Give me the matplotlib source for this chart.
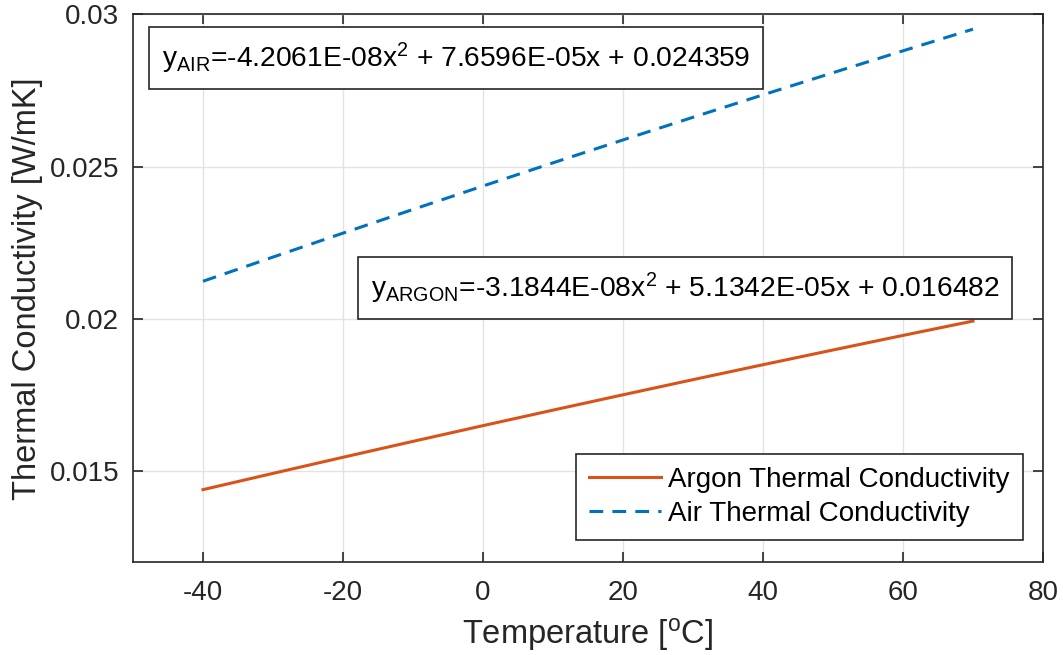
import numpy as np
import matplotlib as mpl
mpl.use('Agg')
import matplotlib.pyplot as plt
from matplotlib.path import Path

# temperature [C] and conductivity [W/mK]
temp = [-40, -30, -20, -10, 0, 10, 20, 30, 40, 50, 60, 70]
k_argon = [0.014378, 0.014913, 0.015442, 0.015965, 0.016482, 0.016992,
           0.017496, 0.017994, 0.018485, 0.018969, 0.019448, 0.019920]
k_air = [0.021228, 0.022023, 0.022810, 0.023589, 0.024359, 0.025121,
         0.025874, 0.026619, 0.027356, 0.028084, 0.028803, 0.029515]

xticks = [-40, -20, 0, 20, 40, 60, 80]
yticks = [0.015, 0.02, 0.025, 0.03]
ytick_labels = ['0.015', '0.02', '0.025', '0.03']

eq_air = r'y$_{\mathrm{AIR}}$=-4.2061E-08x$^{2}$ + 7.6596E-05x + 0.024359'
eq_argon = r'y$_{\mathrm{ARGON}}$=-3.1844E-08x$^{2}$ + 5.1342E-05x + 0.016482'

mpl.rc('font', family='Liberation Sans', size=20)
mpl.rc('axes', unicode_minus=False)
mpl.rc('mathtext', fontset='custom', rm='Liberation Sans',
       it='Liberation Sans:italic', bf='Liberation Sans:bold')
axcol = '#262626'


def eq_box(x0, y0, width, height, mutation_size):
    # square box, a bit more room above/below than left/right
    padx = 0.45 * mutation_size
    pady = 0.47 * mutation_size
    x0, y0 = x0 - padx, y0 - pady
    x1, y1 = x0 + width + 2 * padx, y0 + height + 2 * pady
    return Path([(x0, y0), (x1, y0), (x1, y1), (x0, y1), (x0, y0)], closed=True)


fig = plt.figure(figsize=(10.63, 6.55), dpi=100)
ax = fig.add_axes([0.1251, 0.142, 0.8561, 0.836])

ax.plot(temp, k_argon, '-', color='#D95319', lw=2.2,
        label='Argon Thermal Conductivity')
ax.plot(temp, k_air, '--', color='#0072BD', lw=2.2, dashes=(4.5, 3),
        label='Air Thermal Conductivity')

ax.set_xlim(-50, 80)
ax.set_ylim(0.012, 0.03)
ax.set_xticks(xticks)
ax.set_yticks(yticks)
ax.set_yticklabels(ytick_labels)
ax.grid(True, color='#e3e3e3', lw=1)
ax.set_axisbelow(True)
ax.tick_params(direction='in', length=7, width=1.2, colors=axcol,
               top=True, right=True, labelsize=20)
ax.tick_params(axis='x', pad=13)
ax.tick_params(axis='y', pad=10)
for s in ax.spines.values():
    s.set_color(axcol)
    s.set_linewidth(1.2)

ax.set_xlabel(r'Temperature [$^{\mathrm{o}}$C]', fontsize=23.5, color=axcol,
              labelpad=7)
ax.set_ylabel('Thermal Conductivity [W/mK]', fontsize=23.5, color=axcol,
              labelpad=5)

box = dict(boxstyle=eq_box, fc='white', ec=axcol, lw=1.2)
ax.text(0.032, 0.9205, eq_air, transform=ax.transAxes, fontsize=20.3,
        va='center', ha='left', bbox=box, color='black')
ax.text(0.2615, 0.5005, eq_argon, transform=ax.transAxes, fontsize=20.3,
        va='center', ha='left', bbox=box, color='black')

leg = ax.legend(loc='lower right', bbox_to_anchor=(0.978, 0.040),
                fontsize=20, frameon=True, fancybox=False,
                handlelength=2.6, borderpad=0.47, labelspacing=0.3,
                handletextpad=0.25, borderaxespad=0)
leg.get_frame().set_edgecolor(axcol)
leg.get_frame().set_linewidth(1.2)
leg.get_frame().set_alpha(1)

plt.savefig('out.png', dpi=100)
